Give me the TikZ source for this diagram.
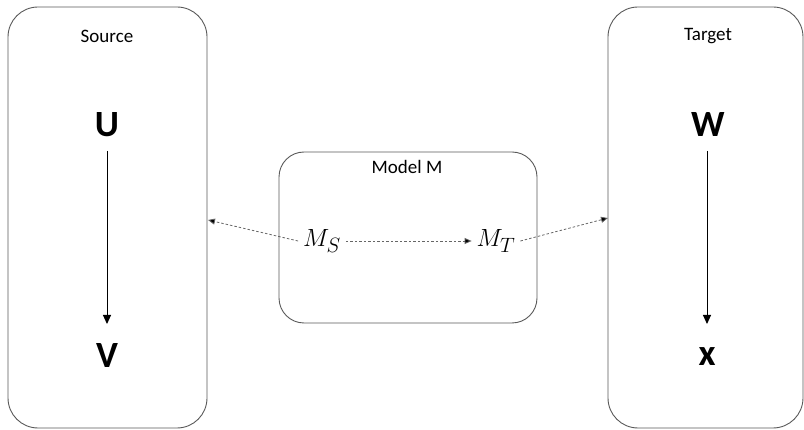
\documentclass[tikz,border=0pt]{standalone}
\usepackage{fontspec}
\setmainfont{Carlito}
\usetikzlibrary{arrows.meta}
\begin{document}
\begin{tikzpicture}[x=1pt,y=-1pt,
  panel/.style={draw=black!65, line width=0.9pt, rounded corners=30pt},
  title/.style={font=\fontsize{19}{22}\selectfont, inner sep=0pt},
  var/.style={font=\fontsize{37}{40}\selectfont\bfseries, inner sep=0pt},
  mvar/.style={font=\fontsize{28}{30}\selectfont, inner sep=1pt, outer sep=4pt},
  solidarr/.style={line width=1pt, -{Triangle[length=9pt,width=8pt]}},
  dasharr/.style={draw=black!60, line width=0.8pt, dash pattern=on 2.5pt off 2pt, -{Triangle[length=7pt,width=6pt,fill=black]}},
]
\useasboundingbox (0,0) rectangle (804,430);
% panels
\draw[panel] (8,7) rectangle (207,428);
\draw[panel] (608,7) rectangle (803,428);
\draw[panel, rounded corners=25pt] (279,152) rectangle (537,323);
% titles
\node[title] (src) at (107,36) {Source};
\node[title] (tgt) at (708,36) {Target};
\node[title] (mdl) at (407,167) {Model M};
% variables
\node[var] (U) at (107,125) {U};
\node[var] (V) at (107,356) {V};
\node[var] (W) at (708,125) {W};
\node[var] (X) at (707,357) {x};
\coordinate (Utop) at (107,151);
\coordinate (Vbot) at (107,324);
\coordinate (Wtop) at (707,151);
\coordinate (Xbot) at (707,324);
\draw[solidarr] (Utop) -- (Vbot);
\draw[solidarr] (Wtop) -- (Xbot);
% model nodes
\node[mvar] (MS) at (322,241) {$M_S$};
\node[mvar] (MT) at (496,241) {$M_T$};
\coordinate (srcR) at (208,220);
\coordinate (tgtL) at (608,218);
\draw[dasharr] (MS.east) -- (MT.west);
\draw[dasharr] (MS.west) -- (srcR);
\draw[dasharr] (MT.east) -- (tgtL);
\end{tikzpicture}
\end{document}
